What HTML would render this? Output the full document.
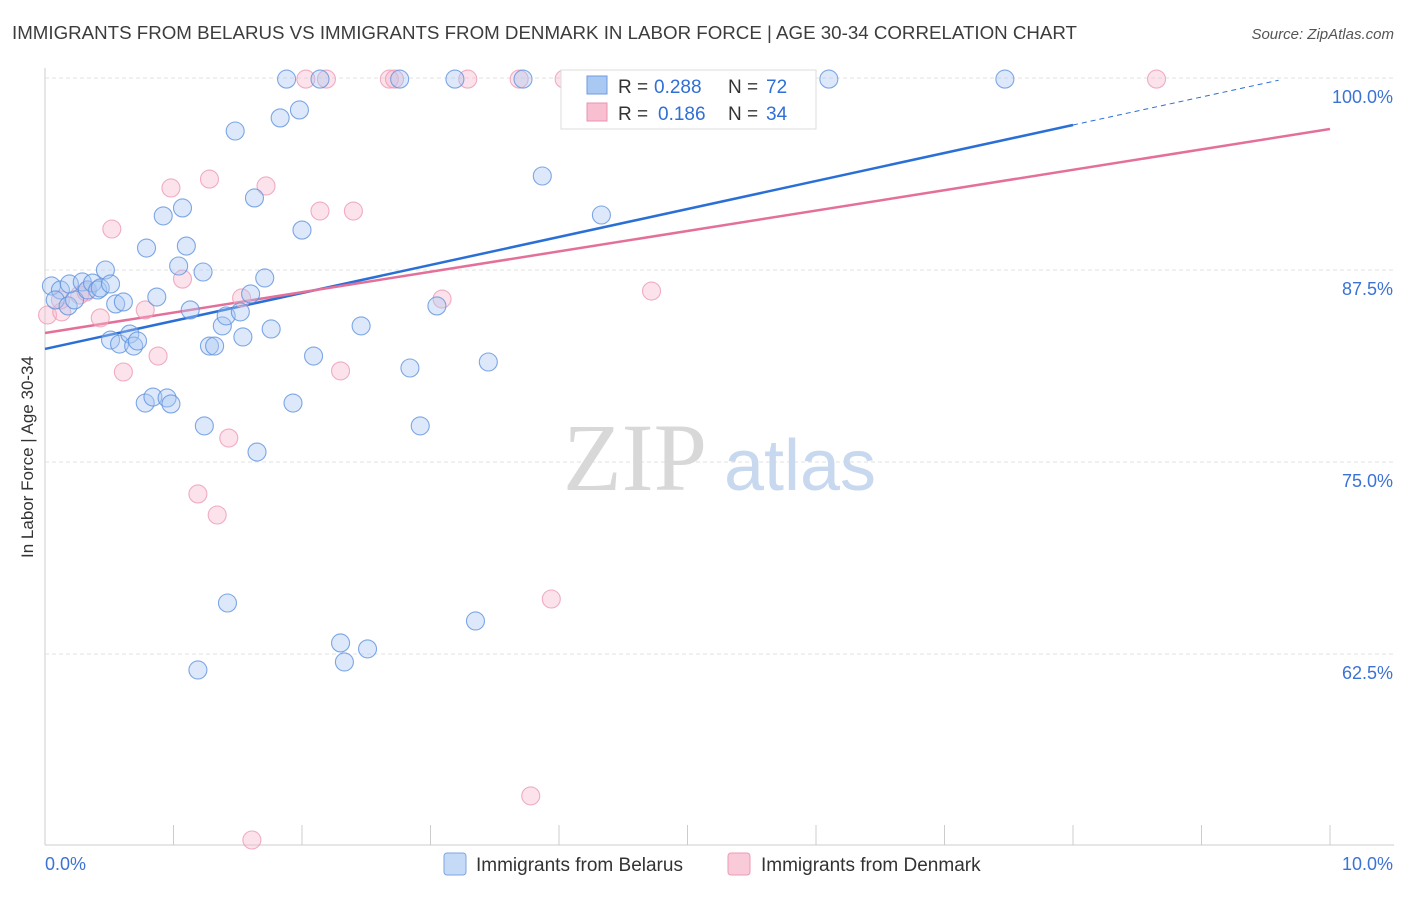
<!DOCTYPE html>
<html><head><meta charset="utf-8"><style>
body{margin:0;background:#fff;font-family:"Liberation Sans",sans-serif;}
</style></head><body>
<svg id="chart" width="1406" height="892" xmlns="http://www.w3.org/2000/svg" style="font-family:'Liberation Sans',sans-serif">
<text x="12" y="39" font-size="18" fill="#3c3c3c" textLength="1065" lengthAdjust="spacingAndGlyphs">IMMIGRANTS FROM BELARUS VS IMMIGRANTS FROM DENMARK IN LABOR FORCE | AGE 30-34 CORRELATION CHART</text>
<text x="1394" y="39" font-size="15" fill="#555" font-style="italic" text-anchor="end">Source: ZipAtlas.com</text>
<text transform="translate(33,457) rotate(-90)" font-size="17" fill="#333" text-anchor="middle">In Labor Force | Age 30-34</text>
<g id="grid"></g>
<g id="watermark">
<text x="635" y="490" font-size="96" fill="#d8d8d8" font-family="Liberation Serif" text-anchor="middle">ZIP</text>
<text x="800" y="490" font-size="72" fill="#c8d8ee" text-anchor="middle">atlas</text>
</g>
<g id="trend"></g>
<g id="points"></g>
<g id="legend">
<rect x="561" y="70" width="255" height="59" fill="#fff" stroke="#ddd"/>
<rect x="587" y="76" width="20" height="18" fill="#a9c8f2" stroke="#6f9be0"/>
<text x="618" y="93" font-size="19" fill="#333">R =</text>
<text x="654" y="93" font-size="19" fill="#2f6fd6">0.288</text>
<text x="728" y="93" font-size="19" fill="#333">N =</text>
<text x="766" y="93" font-size="19" fill="#2f6fd6">72</text>
<rect x="587" y="103" width="20" height="18" fill="#f7bfd0" stroke="#ea93b0"/>
<text x="618" y="120" font-size="19" fill="#333">R =</text>
<text x="658" y="120" font-size="19" fill="#2f6fd6">0.186</text>
<text x="728" y="120" font-size="19" fill="#333">N =</text>
<text x="766" y="120" font-size="19" fill="#2f6fd6">34</text>
</g>
<g>
<rect x="444" y="853" width="22" height="22" rx="3" fill="#c5daf6" stroke="#7ea6e2"/>
<text x="476" y="871" font-size="19" fill="#333">Immigrants from Belarus</text>
<rect x="728" y="853" width="22" height="22" rx="3" fill="#f9cbd9" stroke="#ec9ab5"/>
<text x="761" y="871" font-size="19" fill="#333">Immigrants from Denmark</text>
</g>
</svg>
<script>
const belarusX=[0.05,0.12,0.08,0.18,0.23,0.19,0.29,0.33,0.37,0.41,0.43,0.47,0.51,0.55,0.58,0.61,0.66,0.69,0.72,0.78,0.79,0.84,0.87,0.92,0.95,0.98,1.04,1.07,1.10,1.13,1.23,1.24,1.28,1.32,1.38,1.41,1.42,1.48,1.52,1.54,1.60,1.63,1.65,1.71,1.76,1.83,1.88,1.93,1.98,2.00,2.09,2.14,2.30,2.33,2.46,2.51,2.76,2.84,2.92,3.05,3.19,3.35,3.45,3.72,3.87,4.16,4.33,5.73,6.10,7.47,1.19,0.51];
const belarusY=[86.46,86.20,85.55,85.16,85.55,86.59,86.72,86.20,86.65,86.20,86.33,87.50,82.94,85.29,82.68,85.42,83.33,82.55,82.88,78.84,88.93,79.23,85.74,91.02,79.17,78.78,87.76,91.54,89.06,84.90,87.37,77.35,82.55,82.55,83.86,84.51,65.82,96.55,84.77,83.14,85.94,92.19,75.65,86.98,83.66,97.40,99.93,78.84,97.92,90.10,81.90,99.93,63.22,61.98,83.86,62.83,99.93,81.12,77.35,85.16,99.93,64.65,81.51,99.93,93.62,99.93,91.08,99.93,99.93,99.93,61.46,86.59];
const denmarkX=[0.02,0.13,0.27,0.43,0.52,0.61,0.78,0.88,0.98,1.07,1.19,1.28,1.34,1.43,1.53,1.61,1.72,2.03,2.14,2.19,2.30,2.40,2.68,2.72,3.09,3.29,3.69,3.78,3.94,4.04,4.72,8.65,0.32,0.12];
const denmarkY=[84.57,84.77,85.87,84.38,90.17,80.86,84.90,81.90,92.84,86.91,72.92,93.42,71.55,76.56,85.68,50.39,92.97,99.93,91.34,99.93,80.93,91.34,99.93,99.93,85.61,99.93,99.93,53.26,66.08,99.93,86.13,99.93,86.07,85.55];
const trendBelarus=[82.36,1.8225];
const trendDenmark=[83.40,1.328];
const yTicks=[100,87.5,75,62.5];
const yTickLabels=["100.0%","87.5%","75.0%","62.5%"];
const xTicks=[0,1,2,3,4,5,6,7,8,9,10];

const NS="http://www.w3.org/2000/svg";
const sx=v=>45+v*128.5;
const sy=v=>78+(100-v)*192/12.5;
function mk(tag,attrs,parent){const e=document.createElementNS(NS,tag);for(const k in attrs)e.setAttribute(k,attrs[k]);parent.appendChild(e);return e;}
const grid=document.getElementById('grid');
mk('line',{x1:45,y1:68,x2:45,y2:845,stroke:'#ccc'},grid);
mk('line',{x1:45,y1:845,x2:1394,y2:845,stroke:'#ccc'},grid);
yTicks.forEach((t,i)=>{
 const l=mk('line',{x1:45,y1:sy(t),x2:1394,y2:sy(t),stroke:'#e2e2e2','stroke-dasharray':'4,3'},grid);
 
 
 const tx=mk('text',{x:1393,y:sy(t)+25,'font-size':18,fill:'#3b73d4','text-anchor':'end'},grid);
 tx.textContent=yTickLabels[i];
 
 
});
xTicks.forEach(t=>{
 const l=mk('line',{x1:sx(t),y1:825,x2:sx(t),y2:845,stroke:'#ccc'},grid);
 
 
});
const x0=mk('text',{x:45,y:870,'font-size':18,fill:'#3b73d4'},grid);x0.textContent="0.0%";


const x1=mk('text',{x:1393,y:870,'font-size':18,fill:'#3b73d4','text-anchor':'end'},grid);x1.textContent="10.0%";



const pts=document.getElementById('points');
function plot(xs,ys,fill,stroke,name){
 xs.forEach((x,i)=>{
  const c=mk('circle',{cx:sx(x),cy:sy(ys[i]),r:9,fill:fill,'fill-opacity':0.4,stroke:stroke,'stroke-width':1.1,'stroke-opacity':0.8},pts);
  
  
 });
}
plot(denmarkX,denmarkY,'#f7b8cc','#ec9ab5','denmark-point');
plot(belarusX,belarusY,'#a9c8f2','#5f92de','belarus-point');

const tr=document.getElementById('trend');
const f=(t,x)=>t[0]+t[1]*x;
const b1=mk('line',{x1:sx(0),y1:sy(f(trendBelarus,0)),x2:sx(8),y2:sy(f(trendBelarus,8)),stroke:'#2a6fd6','stroke-width':2.5},tr);


const b2=mk('line',{x1:sx(8),y1:sy(f(trendBelarus,8)),x2:sx(9.6),y2:sy(f(trendBelarus,9.6)),stroke:'#2a6fd6','stroke-width':1,'stroke-dasharray':'5,4'},tr);


const d1=mk('line',{x1:sx(0),y1:sy(f(trendDenmark,0)),x2:sx(10),y2:sy(f(trendDenmark,10)),stroke:'#e4709a','stroke-width':2.5},tr);


</script>
</body></html>
